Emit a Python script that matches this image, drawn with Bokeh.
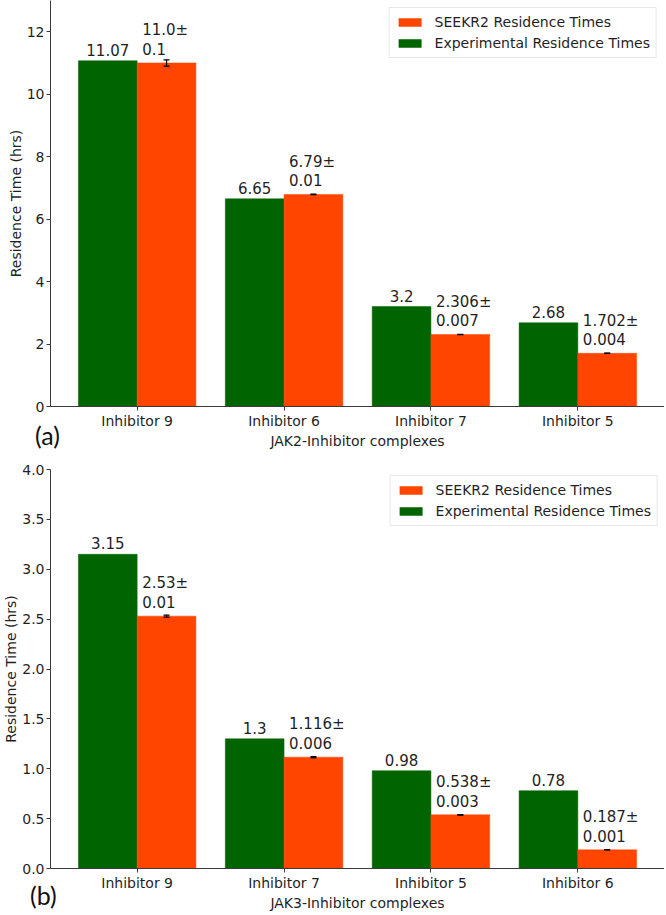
from bokeh.plotting import figure
from bokeh.models import (ColumnDataSource, FixedTicker, PrintfTickFormatter, Whisker,
                          TeeHead, Legend, LegendItem, Range1d, Div)
from bokeh.layouts import column
from bokeh.embed import file_html
from bokeh.resources import INLINE
from bokeh.core.properties import value

# ---------------- data ----------------
jak2_categories = ["Inhibitor 9", "Inhibitor 6", "Inhibitor 7", "Inhibitor 5"]
jak2_experimental = [11.07, 6.65, 3.2, 2.68]
jak2_seekr = [11.0, 6.79, 2.306, 1.702]
jak2_seekr_err = [0.1, 0.01, 0.007, 0.004]
jak2_yticks = [0, 2, 4, 6, 8, 10, 12]

jak3_categories = ["Inhibitor 9", "Inhibitor 7", "Inhibitor 5", "Inhibitor 6"]
jak3_experimental = [3.15, 1.3, 0.98, 0.78]
jak3_seekr = [2.53, 1.116, 0.538, 0.187]
jak3_seekr_err = [0.01, 0.006, 0.003, 0.001]
jak3_yticks = [0.0, 0.5, 1.0, 1.5, 2.0, 2.5, 3.0, 3.5, 4.0]

series_labels = ["SEEKR2 Residence Times", "Experimental Residence Times"]
panel_tags = ["(a)", "(b)"]

GREEN = "#006400"
ORANGE = "#ff4500"
FONT = "DejaVu Sans"
TXT = "#1f1f1f"
AX = "#3a3a3a"
FIG_W = 664


def make_panel(categories, exp, seekr, err, yticks, yend, yfmt, xlabel,
               frame_h, b_top, b_bottom, leg_margin):
    n = len(categories)
    idx = list(range(n))
    src = ColumnDataSource(dict(
        x_cat=idx,
        x_exp=[i - 0.2 for i in idx],
        x_seekr=[i + 0.2 for i in idx],
        exp=exp,
        seekr=seekr,
        lower=[s - e for s, e in zip(seekr, err)],
        upper=[s + e for s, e in zip(seekr, err)],
        exp_text=[str(v) for v in exp],
        seekr_text=[f"{s}±\n{e}" for s, e in zip(seekr, err)],
    ))
    p = figure(width=FIG_W, frame_height=frame_h,
               x_range=Range1d(-0.59, n - 1 + 0.59), y_range=Range1d(0, yend),
               output_backend="svg", toolbar_location=None,
               min_border_top=b_top, min_border_bottom=b_bottom,
               min_border_left=10, min_border_right=0)
    p.outline_line_color = None
    p.grid.visible = False

    r_exp = p.vbar(x="x_exp", top="exp", width=0.4, source=src,
                   fill_color=GREEN, line_color=GREEN, line_width=0.5)
    r_seekr = p.vbar(x="x_seekr", top="seekr", width=0.4, source=src,
                     fill_color=ORANGE, line_color=ORANGE, line_width=0.5)

    wh = Whisker(source=src, base="x_seekr", upper="upper", lower="lower",
                 dimension="height", line_color="black", line_width=1.2,
                 level="overlay",
                 upper_head=TeeHead(size=6, line_color="black", line_width=1.2),
                 lower_head=TeeHead(size=6, line_color="black", line_width=1.2))
    p.add_layout(wh)

    p.text(x="x_exp", y="exp", text="exp_text", source=src,
           text_align="center", text_baseline="bottom", y_offset=-5,
           text_font=value(FONT), text_font_size="15px", text_color=TXT)
    p.text(x="x_cat", y="seekr", text="seekr_text", source=src,
           text_align="left", text_baseline="bottom", x_offset=5, y_offset=-4,
           text_line_height=1.1,
           text_font=value(FONT), text_font_size="15px", text_color=TXT)

    legend = Legend(items=[LegendItem(label=series_labels[0], renderers=[r_seekr]),
                           LegendItem(label=series_labels[1], renderers=[r_exp])],
                    location="top_right", margin=leg_margin, padding=6, spacing=5,
                    label_height=15, glyph_height=10, glyph_width=28,
                    label_standoff=11, label_text_font=FONT,
                    label_text_font_size="14px", label_text_color=TXT,
                    border_line_color="#d0d0d0", border_line_width=1,
                    background_fill_alpha=0.85)
    p.add_layout(legend)

    p.xaxis.ticker = FixedTicker(ticks=idx)
    p.xaxis.major_label_overrides = {i: c for i, c in zip(idx, categories)}
    p.yaxis.ticker = FixedTicker(ticks=yticks)
    p.yaxis.formatter = PrintfTickFormatter(format=yfmt)
    p.xaxis.axis_label = xlabel
    p.yaxis.axis_label = "Residence Time (hrs)"
    for ax in (p.xaxis, p.yaxis):
        ax.axis_line_color = AX
        ax.major_tick_line_color = AX
        ax.minor_tick_line_color = None
        ax.major_tick_out = 4
        ax.major_tick_in = 0
        ax.major_label_standoff = 2
        ax.axis_label_standoff = 1
        ax.major_label_text_font = FONT
        ax.major_label_text_font_size = "14px"
        ax.major_label_text_color = TXT
        ax.axis_label_text_font = FONT
        ax.axis_label_text_font_size = "14px"
        ax.axis_label_text_font_style = "normal"
        ax.axis_label_text_color = TXT
    p.yaxis.axis_label_standoff = 0
    return p


p1 = make_panel(jak2_categories, jak2_experimental, jak2_seekr, jak2_seekr_err,
                jak2_yticks, 13.0, "%d", "JAK2-Inhibitor complexes",
                406, 0, 50, 7)
p2 = make_panel(jak3_categories, jak3_experimental, jak3_seekr, jak3_seekr_err,
                jak3_yticks, 4.0, "%.1f", "JAK3-Inhibitor complexes",
                399, 13, 44, 6)


def tag_div(text, left, top):
    return Div(text=text, width=40, height=28,
               styles={"position": "absolute", "left": f"{left}px", "top": f"{top}px",
                       "font-family": "Lato", "font-size": "25px",
                       "color": "#111111", "line-height": "1"})


tag_a = tag_div(panel_tags[0], 30, 418)
tag_b = tag_div(panel_tags[1], 25, 878)

layout = column(p1, p2, tag_a, tag_b, spacing=0)
open("out.html", "w").write(file_html(layout, INLINE))
